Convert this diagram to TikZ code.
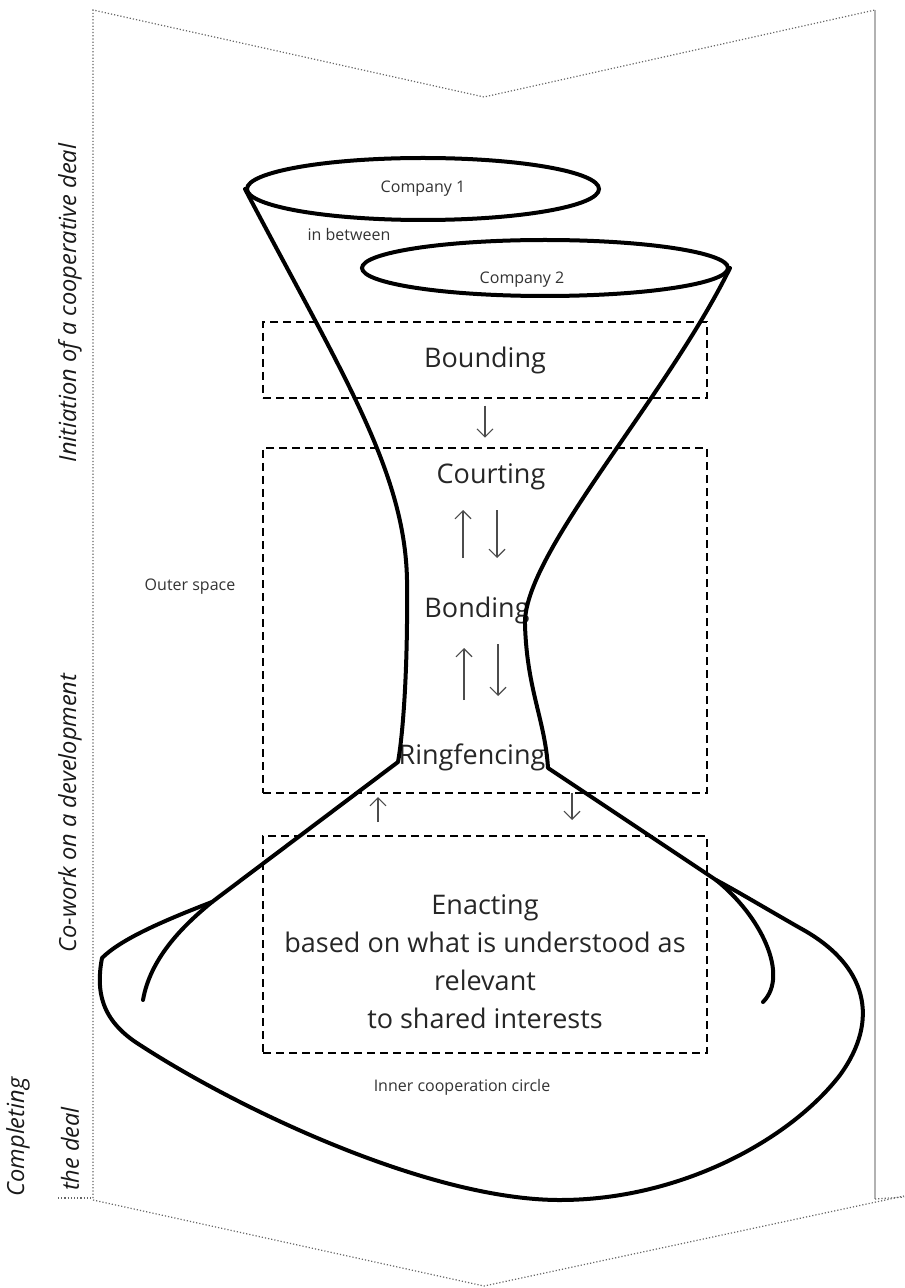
\documentclass[tikz,border=0pt]{standalone}
\usepackage{fontspec}
\setmainfont{Open Sans}
\usetikzlibrary{arrows.meta,calc,shapes.geometric}

\tikzset{
  guide/.style={gray!80!black, densely dotted, line width=0.6pt},
  phase/.style={draw, dash pattern=on 4pt off 2.5pt, line width=0.7pt, minimum width=222pt},
  rim/.style={draw, ellipse, line width=2pt},
  wall/.style={line width=2pt, line join=round, line cap=round},
  big/.style={text=black!85, font=\fontsize{13.5}{19}\selectfont, align=center},
  small/.style={text=black!80, font=\fontsize{8}{10}\selectfont},
  side/.style={rotate=90, text=black!90, font=\fontsize{11.8}{14}\selectfont\itshape},
  flow/.style={black!70, line width=0.55pt, -{Straight Barb[length=4pt,width=8pt]}}
}

\begin{document}
\begin{tikzpicture}[x=0.5pt, y=-0.5pt]
  \useasboundingbox (0,0) rectangle (904,1288);
%
  % outer frame
  \draw[guide] (93,1198) -- (93,10) -- (484,97) -- (875,10);
  \draw[gray!60, line width=0.6pt] (875,10) -- (875,1199);
  \draw[guide] (58,1198) -- (93,1198);
  \draw[guide] (93,1200) -- (484,1286) -- (904,1196);
  \draw[guide] (875,1199) -- (904,1197);
%
  \node[side] (initiation) at (70,303) {Initiation of a cooperative deal};
  \node[side] (cowork) at (70,813) {Co-work on a development};
  \node[side] (completing) at (18,1137) {Completing};
  \node[side] (thedeal) at (70,1149) {the deal};
%
  % the two companies
  \node[rim, minimum width=176pt, minimum height=31pt] (comp1) at (423,189) {};
  \node[rim, minimum width=183pt, minimum height=28pt] (comp2) at (545,268) {};
  \node[small] (c1text) at (comp1) {Company 1};
  \node[small] (c2text) at ($(comp2)+(-23,12)$) {Company 2};
  \node[small] (between) at (349,235) {in between};
%
  % phases
  \node[phase, big, minimum height=38pt] (bounding) at (485,360) {Bounding};
  \node[phase, minimum height=172.5pt] (middle) at (485,620.5) {};
  \node[phase, minimum height=108.5pt] (enact) at (485,944.5) {};
  \node[big] (courting) at (491,477) {Courting};
  \node[big] (bonding) at (477,610) {Bonding};
  \node[big] (ringfencing) at (472,757) {Ringfencing};
  \node[big] (enacting) at (485,962) {Enacting\\based on what is understood as\\relevant\\to shared interests};
%
  \node[small] (outer) at (190,587) {Outer space};
  \node[small] (inner) at (462,1087) {Inner cooperation circle};
%
  % funnel walls
  \draw[wall] (comp1.west) .. controls (340,370) and (405,470) .. (407,580)
    .. controls (408,680) and (402,740) .. (398,762) -- (212,902) coordinate (lfoot)
    .. controls (180,928) and (150,960) .. (143,1000);
  \draw[wall] (comp2.east) .. controls (665,400) and (522,555) .. (525,625)
    .. controls (527,690) and (545,720) .. (548,768) -- (716,880) coordinate (rfoot)
    .. controls (760,915) and (790,975) .. (763,1002);
  \draw[wall] (lfoot) .. controls (160,922) and (120,940) .. (102,958)
    .. controls (96,990) and (100,1020) .. (140,1045)
    .. controls (240,1110) and (430,1200) .. (560,1200)
    .. controls (680,1200) and (790,1140) .. (840,1075)
    .. controls (880,1020) and (868,965) .. (800,928)
    .. controls (765,908) and (735,890) .. (rfoot);
%
  % arrows between phases
  \draw[flow] ($(bounding.south)+(0,7)$) -- ($(bounding.south)+(0,39)$);
  \draw[flow] ($(bonding)+(-14,-52)$) -- ($(bonding)+(-14,-100)$);
  \draw[flow] ($(bonding)+(20,-100)$) -- ($(bonding)+(20,-52)$);
  \draw[flow] ($(bonding)+(-13,90)$) -- ($(bonding)+(-13,38)$);
  \draw[flow] ($(bonding)+(21,34)$) -- ($(bonding)+(21,86)$);
  \draw[flow] ($(ringfencing)+(-94,65)$) -- ($(ringfencing)+(-94,40)$);
  \draw[flow] ($(ringfencing)+(100,36)$) -- ($(ringfencing)+(100,63)$);
\end{tikzpicture}
\end{document}
